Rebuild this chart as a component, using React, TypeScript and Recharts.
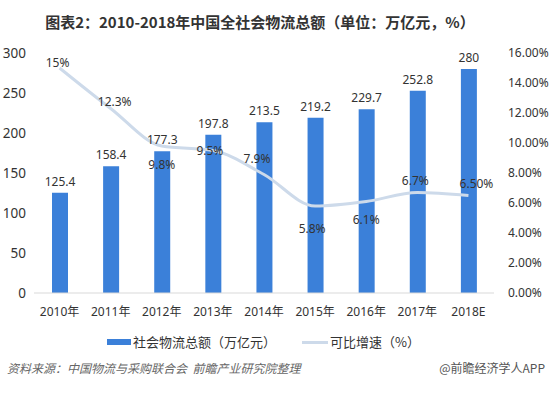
import React from "react";
import { ComposedChart, Bar, Line, XAxis, YAxis, LabelList } from "recharts";

const categories = ["2010年", "2011年", "2012年", "2013年", "2014年", "2015年", "2016年", "2017年", "2018E"];
const totalValues = [125.4, 158.4, 177.3, 197.8, 213.5, 219.2, 229.7, 252.8, 280];
const growthValues = [15, 12.3, 9.8, 9.5, 7.9, 5.8, 6.1, 6.7, 6.5];
const growthLabels = ["15%", "12.3%", "9.8%", "9.5%", "7.9%", "5.8%", "6.1%", "6.7%", "6.50%"];
const leftTicks = [0, 50, 100, 150, 200, 250, 300];
const rightTicks = [0, 2, 4, 6, 8, 10, 12, 14, 16];

const labelOffsets: [number, number][] = [
  [-2, -6], [4, -7], [0, 18], [-3, 0], [-7, -16], [-3, 22], [0, 18], [-2, -12], [8, -12],
];

const data = categories.map((c, i) => ({
  name: c,
  total: totalValues[i],
  growth: growthValues[i],
}));

const FONT = "'Noto Sans', 'Noto Sans CJK SC', sans-serif";
const BAR_COLOR = "#3b80d9";
const LINE_COLOR = "#cddaea";

const GrowthLabel = (props: any) => {
  const { x, y, index } = props;
  const [dx, dy] = labelOffsets[index] || [0, -10];
  return (
    <text
      x={x + dx}
      y={y + dy}
      textAnchor="middle"
      dominantBaseline="central"
      fontSize={12}
      fill="#333"
    >
      {growthLabels[index]}
    </text>
  );
};

export default function App() {
  return (
    <div
      style={{
        position: "fixed",
        left: 0,
        top: 0,
        width: 550,
        height: 393,
        background: "#fff",
        fontFamily: FONT,
        color: "#333",
        overflow: "hidden",
      }}
    >
      <div
        style={{
          position: "absolute",
          left: 0,
          width: 520,
          top: 12,
          textAlign: "center",
          fontSize: 15,
          fontWeight: 700,
          lineHeight: "20px",
          color: "#333",
          fontFamily: "'Noto Sans CJK SC', 'Noto Sans', sans-serif",
        }}
      >
        图表2：2010-2018年中国全社会物流总额（单位：万亿元，%）
      </div>
      <div style={{ position: "absolute", left: 0, top: 0 }}>
        <ComposedChart
          width={550}
          height={323}
          data={data}
          margin={{ top: 53, right: 0, bottom: 0, left: 0 }}
        >
          <XAxis
            dataKey="name"
            height={30}
            tickLine={false}
            axisLine={{ stroke: "#d9d9d9" }}
            tick={{ fill: "#333", fontSize: 12 }}
            tickMargin={8}
            interval={0}
          />
          <YAxis
            yAxisId="left"
            width={34}
            domain={[0, 300]}
            ticks={leftTicks}
            axisLine={false}
            tickLine={false}
            tick={{ fill: "#333", fontSize: 13.5 }}
          />
          <YAxis
            yAxisId="right"
            orientation="right"
            width={56}
            domain={[0, 16]}
            ticks={rightTicks}
            axisLine={false}
            tickLine={false}
            tickMargin={8}
            tick={{ fill: "#333", fontSize: 12, textAnchor: "start" }}
            tickFormatter={(v: number) => `${v.toFixed(2)}%`}
          />
          <Bar
            yAxisId="left"
            dataKey="total"
            fill={BAR_COLOR}
            barSize={16}
            isAnimationActive={false}
          >
            <LabelList dataKey="total" position="top" offset={7} fill="#333" fontSize={12} />
          </Bar>
          <Line
            yAxisId="right"
            type="monotone"
            dataKey="growth"
            stroke={LINE_COLOR}
            strokeWidth={3}
            dot={false}
            isAnimationActive={false}
          >
            <LabelList dataKey="growth" content={GrowthLabel} />
          </Line>
        </ComposedChart>
      </div>
      <div
        style={{
          position: "absolute",
          top: 332,
          left: 0,
          width: 550,
          height: 20,
          fontSize: 13,
          lineHeight: "20px",
          fontFamily: "'Noto Sans CJK SC', 'Noto Sans', sans-serif",
          color: "#333",
        }}
      >
        <span style={{ position: "absolute", left: 107, top: 7, width: 24, height: 6, background: BAR_COLOR }} />
        <span style={{ position: "absolute", left: 133, top: 0 }}>社会物流总额（万亿元）</span>
        <span style={{ position: "absolute", left: 302, top: 9, width: 26, height: 3, background: LINE_COLOR }} />
        <span style={{ position: "absolute", left: 330, top: 0 }}>可比增速（%）</span>
      </div>
      <div
        style={{
          position: "absolute",
          top: 359,
          left: 7,
          fontSize: 12,
          lineHeight: "18px",
          fontStyle: "italic",
          color: "#666",
          fontFamily: "'Noto Sans CJK SC', 'Noto Sans', sans-serif",
          whiteSpace: "pre",
        }}
      >
        {"资料来源：中国物流与采购联合会  前瞻产业研究院整理"}
      </div>
      <div
        style={{
          position: "absolute",
          top: 359,
          right: 5,
          fontSize: 12,
          lineHeight: "18px",
          color: "#555",
          fontFamily: "'Noto Sans CJK SC', 'Noto Sans', sans-serif",
        }}
      >
        @前瞻经济学人APP
      </div>
    </div>
  );
}
